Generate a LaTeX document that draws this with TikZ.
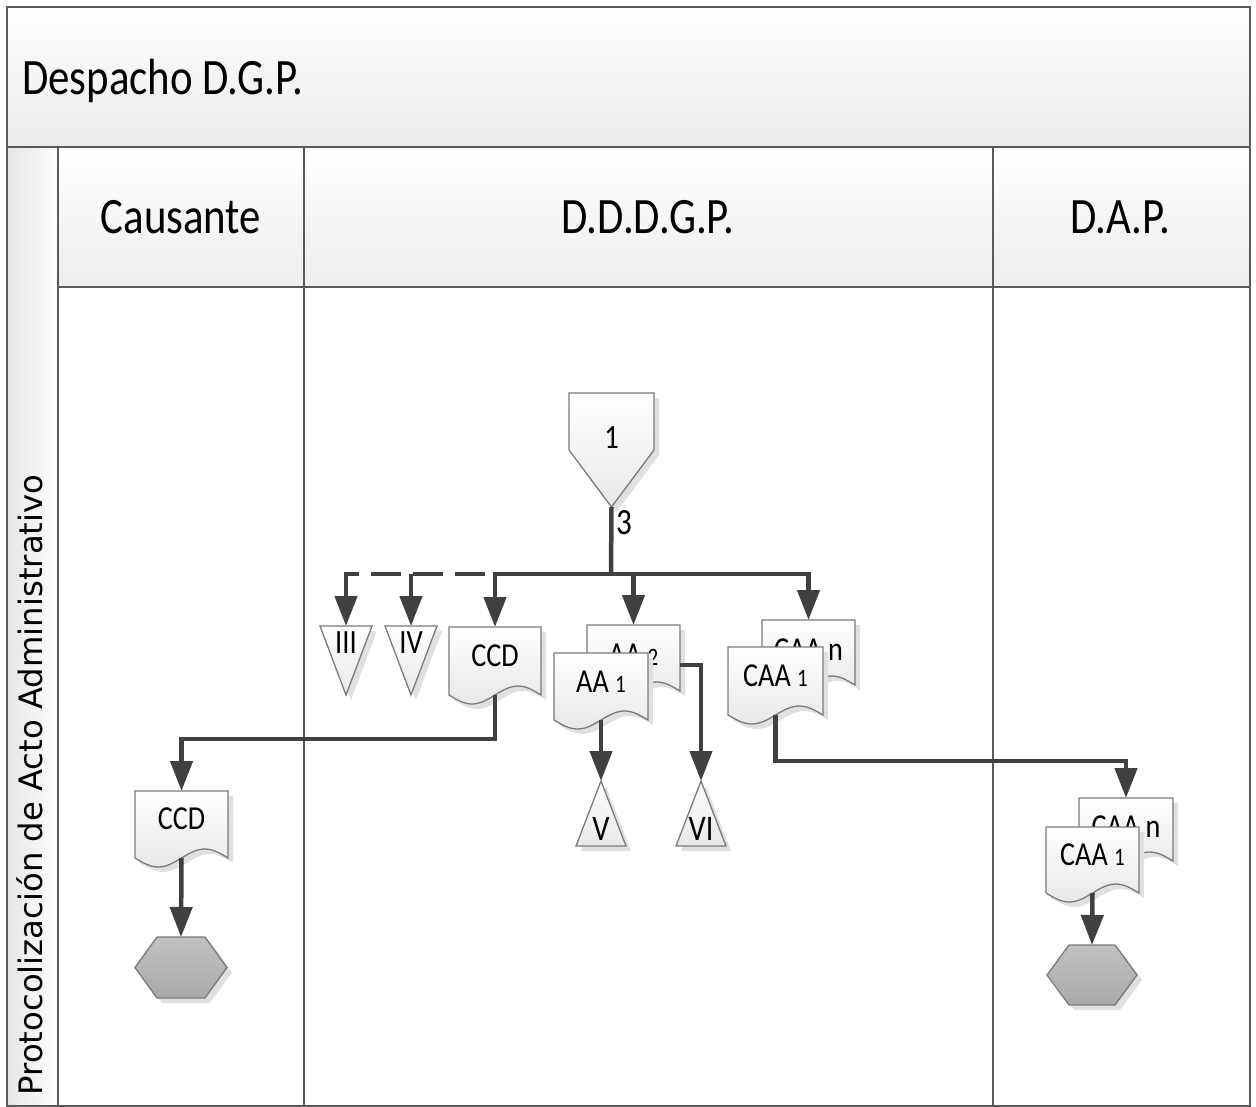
\documentclass[tikz,border=0pt]{standalone}
\usepackage{fontspec}
\setmainfont{Carlito}[FakeStretch=0.84]
\newfontfamily\vlabelfont{DejaVu Sans}
\usetikzlibrary{arrows.meta,calc}
\definecolor{lineC}{HTML}{404040}
\definecolor{laneC}{HTML}{5A5A5A}
\definecolor{shapeC}{HTML}{7A7A7A}
\definecolor{hexTop}{HTML}{C2C2C2}
\definecolor{hexBot}{HTML}{A8A8A8}
\newcommand\docpath[1]{(#1.north west) -- (#1.north east) -- (#1.south east)
  sin ($(#1.south east)!0.25!(#1.south west)+(0,-9)$)
  cos ($(#1.south east)!0.5!(#1.south west)$)
  sin ($(#1.south east)!0.75!(#1.south west)+(0,9)$)
  cos (#1.south west) -- cycle}
\newcommand\hexpath[1]{($(#1.north west)+(22,0)$) -- ($(#1.north east)+(-22,0)$) -- (#1.east)
  -- ($(#1.south east)+(-22,0)$) -- ($(#1.south west)+(22,0)$) -- (#1.west) -- cycle}
\newcommand\mergepath[1]{(#1.north west) -- (#1.north east) -- (#1.south) -- cycle}
\newcommand\extractpath[1]{(#1.north) -- (#1.south east) -- (#1.south west) -- cycle}
\newcommand\opcpath[1]{(#1.north west) -- (#1.north east) -- ($(#1.north east)+(0,57)$)
  -- (#1.south) -- ($(#1.north west)+(0,57)$) -- cycle}
\tikzset{
  lane/.style={draw=laneC, line width=2.5pt},
  stem/.style={draw=lineC, line width=4.5pt},
  dstem/.style={stem, dash pattern=on 30pt off 12pt, dash phase=32pt},
  conn/.style={draw=lineC, line width=4.5pt, -{Triangle[width=22pt,length=30pt]}},
  box/.style={draw=none, inner sep=0pt, outer sep=0pt, rectangle, anchor=north west},
  shp/.style={draw=shapeC, line width=1.3pt, top color=white, bottom color=black!9},
  hexshp/.style={draw=shapeC, line width=1.3pt, top color=hexTop, bottom color=hexBot},
  shd/.style={fill=black!12, draw=none, transform canvas={xshift=5pt, yshift=-5pt}},
  lbl/.style={inner sep=0pt, font=\fontsize{33.5}{38}\selectfont},
  romlbl/.style={inner sep=0pt, font=\fontsize{34}{38}\selectfont},
  headlbl/.style={inner sep=0pt, anchor=base, font=\fontsize{51}{60}\selectfont},
}
\newcommand\smallnum[1]{{\fontsize{25}{28}\selectfont #1}}
\begin{document}
\begin{tikzpicture}[x=1pt,y=-1pt]
\useasboundingbox (0,0) rectangle (1256,1107);
% ---------- pool and lanes ----------
\fill[top color=white, bottom color=black!8] (7,7) rectangle (1250,147);
\fill[left color=black!10, right color=white] (7,147) rectangle (58,1106);
\fill[top color=white, bottom color=black!7] (58,147) rectangle (304,287);
\fill[top color=white, bottom color=black!7] (304,147) rectangle (993,287);
\fill[top color=white, bottom color=black!7] (993,147) rectangle (1250,287);
\draw[lane] (7,7) rectangle (1250,1106);
\draw[lane] (7,147) -- (1250,147);
\draw[lane] (58,287) -- (1250,287);
\draw[lane] (58,147) -- (58,1106);
\draw[lane] (304,147) -- (304,1106);
\draw[lane] (993,147) -- (993,1106);
\node[headlbl, anchor=base west] (pooltitle) at (22,95) {Despacho D.G.P.};
\node[headlbl] (h1) at (181,234) {Causante};
\node[headlbl] (h2) at (648,234) {D.D.D.G.P.};
\node[headlbl] (h3) at (1120,234) {D.A.P.};
\node[rotate=90, anchor=base, inner sep=0pt, font=\vlabelfont\fontsize{32.3}{36}\selectfont]
  (phase) at (42,785) {Protocolización de Acto Administrativo};
% ---------- shape frames ----------
\node[box, minimum width=85pt, minimum height=114pt] (opc) at (569,393) {};
\node[box, minimum width=52pt, minimum height=69pt] (t3) at (320,626) {};
\node[box, minimum width=52pt, minimum height=69pt] (t4) at (385,626) {};
\node[box, minimum width=92pt, minimum height=68pt] (ccd1) at (449,627) {};
\node[box, minimum width=93pt, minimum height=66pt] (aa2) at (587,625) {};
\node[box, minimum width=94pt, minimum height=67pt] (aa1) at (554,653) {};
\node[box, minimum width=93pt, minimum height=65pt] (caan) at (762,620) {};
\node[box, minimum width=95pt, minimum height=68pt] (caa1) at (728,647) {};
\node[box, minimum width=50pt, minimum height=65pt] (t5) at (576,781) {};
\node[box, minimum width=50pt, minimum height=65pt] (t6) at (676,781) {};
\node[box, minimum width=93pt, minimum height=67pt] (ccdc) at (135,791) {};
\node[box, minimum width=92pt, minimum height=61pt] (hex1) at (135,937) {};
\node[box, minimum width=94pt, minimum height=63pt] (dcaan) at (1079,798) {};
\node[box, minimum width=93pt, minimum height=66pt] (dcaa1) at (1046,827) {};
\node[box, minimum width=90pt, minimum height=60pt] (hex2) at (1047,945) {};
% ---------- shapes ----------
\fill[shd] \opcpath{opc};
\draw[shp] \opcpath{opc};
\node[lbl, font=\fontsize{34}{38}\selectfont] (opct) at ($(opc.north)+(0,45)$) {1};
\foreach \n in {t3,t4}{
  \fill[shd] \mergepath{\n};
  \draw[shp] \mergepath{\n};
}
\node[romlbl] (t3t) at ($(t3.north)+(0,17)$) {III};
\node[romlbl] (t4t) at ($(t4.north)+(0,17)$) {IV};
\foreach \n in {t5,t6}{
  \fill[shd] \extractpath{\n};
  \draw[shp] \extractpath{\n};
}
\node[romlbl, font=\fontsize{36}{40}\selectfont] (t5t) at ($(t5.south)+(0,-17)$) {V};
\node[romlbl, font=\fontsize{36}{40}\selectfont] (t6t) at ($(t6.south)+(0,-17)$) {VI};
% documents
\fill[shd] \docpath{ccd1};
\draw[shp] \docpath{ccd1};
\node[lbl] (ccd1t) at ($(ccd1.center)+(0,-5)$) {CCD};
\fill[shd] \docpath{aa2};
\draw[shp] \docpath{aa2};
\node[lbl] (aa2t) at ($(aa2.center)+(0,-3)$) {AA \smallnum{2}};
\fill[shd] \docpath{aa1};
\draw[shp] \docpath{aa1};
\node[lbl] (aa1t) at ($(aa1.center)+(0,-5)$) {AA \smallnum{1}};
\fill[shd] \docpath{caan};
\draw[shp] \docpath{caan};
\node[lbl] (caant) at ($(caan.center)+(0,-3)$) {CAA n};
\fill[shd] \docpath{caa1};
\draw[shp] \docpath{caa1};
\node[lbl] (caa1t) at ($(caa1.center)+(0,-5)$) {CAA \smallnum{1}};
\fill[shd] \docpath{ccdc};
\draw[shp] \docpath{ccdc};
\node[lbl] (ccdct) at ($(ccdc.center)+(0,-6)$) {CCD};
\fill[shd] \docpath{dcaan};
\draw[shp] \docpath{dcaan};
\node[lbl] (dcaant) at ($(dcaan.center)+(0,-3)$) {CAA n};
\fill[shd] \docpath{dcaa1};
\draw[shp] \docpath{dcaa1};
\node[lbl] (dcaa1t) at ($(dcaa1.center)+(0,-5)$) {CAA \smallnum{1}};
% hexagons
\fill[shd] \hexpath{hex1};
\draw[hexshp] \hexpath{hex1};
\fill[shd] \hexpath{hex2};
\draw[hexshp] \hexpath{hex2};
% ---------- connectors ----------
\coordinate (j) at (611,574);
\draw[stem] (opc.south) -- (j);
\node[inner sep=0pt, font=\fontsize{37}{40}\selectfont] (lbl3) at (624,523) {3};
\draw[conn] (j) -| (ccd1.north);
\draw[conn] (j) -| (aa2.north);
\draw[conn] (j) -| (caan.north);
\coordinate (jd) at (ccd1.north |- j);
\coordinate (jc) at (t3.north |- j);
\draw[dstem] (jd) -- (jc);
\draw[conn] ($(jc)+(-2.25,0)$) -- ++(2.25,0) -- (t3.north);
\draw[conn] (t4.north |- j) -- (t4.north);
\draw[conn] (ccd1.south) -- ++(0,44) -| (ccdc.north);
\draw[conn] (aa1.south) -- (t5.north);
\draw[conn] ($(aa2.east)+(0,7)$) -| (t6.north);
\draw[conn] (caa1.south) -- ++(0,46) -| (dcaan.north);
\draw[conn] (ccdc.south) -- (hex1.north);
\draw[conn] (dcaa1.south) -- (hex2.north);
\end{tikzpicture}
\end{document}
